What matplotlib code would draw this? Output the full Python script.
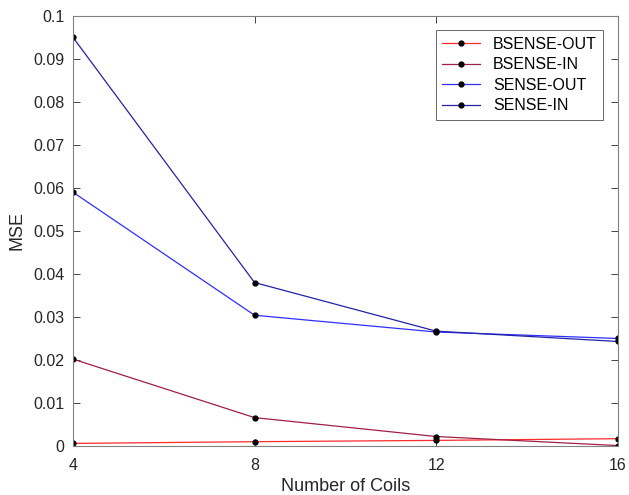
import numpy as np
import matplotlib.pyplot as plt

plt.rcParams['font.family'] = ['Liberation Sans', 'DejaVu Sans']

coils = [4, 8, 12, 16]
bsense_out = [0.0006, 0.0010, 0.0013, 0.0017]
bsense_in = [0.0202, 0.0066, 0.0022, 0.0001]
sense_out = [0.0590, 0.0304, 0.0265, 0.0250]
sense_in = [0.0950, 0.0380, 0.0267, 0.0243]

fig = plt.figure(figsize=(6.29, 4.95), dpi=100)
ax = fig.add_axes([0.116, 0.099, 0.866, 0.869])

ax.plot(coils, bsense_out, color='#ff2a2a', lw=0.9, marker='o', ms=3.5,
        mfc='k', mec='k', label='BSENSE-OUT')
ax.plot(coils, bsense_in, color='#a21f45', lw=0.9, marker='o', ms=3.5,
        mfc='k', mec='k', label='BSENSE-IN')
ax.plot(coils, sense_out, color='#2f2fff', lw=0.9, marker='o', ms=3.5,
        mfc='k', mec='k', label='SENSE-OUT')
ax.plot(coils, sense_in, color='#2323a8', lw=0.9, marker='o', ms=3.5,
        mfc='k', mec='k', label='SENSE-IN')

ax.set_xlim(4, 16)
ax.set_ylim(0, 0.1)
ax.set_xticks(coils)
ax.set_yticks(np.arange(0, 0.101, 0.01))
ax.set_yticklabels(['0', '0.01', '0.02', '0.03', '0.04', '0.05', '0.06',
                    '0.07', '0.08', '0.09', '0.1'])
ax.tick_params(direction='in', length=5, width=0.6, colors='#262626',
               labelsize=11.5, top=True, right=True, labeltop=False, labelright=False)
ax.tick_params(axis='x', pad=9)
ax.tick_params(axis='y', pad=6)
for s in ax.spines.values():
    s.set_color('#808080')
    s.set_linewidth(0.8)

ax.set_xlabel('Number of Coils', fontsize=13, color='#262626', labelpad=3)
ax.set_ylabel('MSE', fontsize=13, color='#262626', labelpad=6)

leg = ax.legend(loc='upper right', fontsize=11.5, frameon=True, fancybox=False,
                edgecolor='#262626', borderaxespad=0.9, handlelength=2.4,
                labelspacing=0.35, borderpad=0.4)
leg.get_frame().set_linewidth(0.6)

fig.savefig('out.png', dpi=100)
